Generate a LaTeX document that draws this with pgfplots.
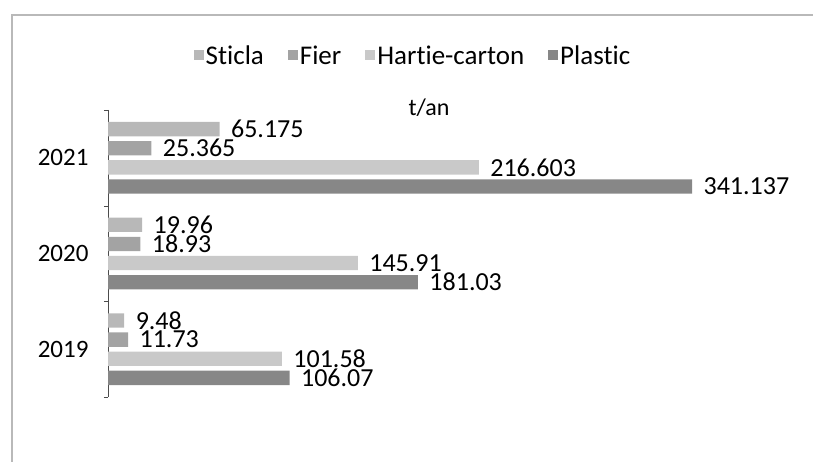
\documentclass[border=0pt]{standalone}
\usepackage{pgfplots}
\pgfplotsset{compat=1.18}
\usepackage{fontspec}
\setmainfont{Carlito}[Ligatures=NoCommon]

\definecolor{cSticla}{gray}{0.72}
\definecolor{cFier}{gray}{0.64}
\definecolor{cHartie}{gray}{0.79}
\definecolor{cPlastic}{gray}{0.53}

\begin{document}
\begin{tikzpicture}
% scanned page frame
\draw[gray!55, line width=1.5pt] (12pt,0pt) -- (12pt,447pt) -- (813pt,447pt);

\begin{axis}[
    at={(108pt,65pt)}, anchor=south west,
    scale only axis,
    width=642pt, height=287pt,
    xbar, bar width=0.15,
    xmin=0, xmax=375,
    ymin=-0.5, ymax=2.5,
    y dir=reverse,
    hide x axis,
    axis y line*=left,
    y axis line style={draw=black!70, line width=0.8pt, -},
    ytick={0,1,2},
    yticklabels={2021,2020,2019},
    major tick length=0pt,
    extra y ticks={-0.5,0.5,1.5,2.5},
    extra y tick labels={},
    extra y tick style={major tick length=4pt, tick align=outside, tick style={black!70}},
    yticklabel style={font=\fontsize{25}{28}\selectfont, xshift=-16pt},
    point meta=explicit symbolic,
    nodes near coords={\pgfplotspointmeta},
    nodes near coords style={font=\fontsize{26}{28}\selectfont, anchor=west, xshift=8pt, text=black},
    title={t/an},
    title style={font=\fontsize{24}{26}\selectfont, at={(0.5,1)}, anchor=center, yshift=-4pt},
    legend columns=4,
    legend style={
        at={(0.475,1.19)}, anchor=center, draw=none, fill=none,
        font=\fontsize{27}{30}\selectfont,
        /tikz/every even column/.append style={column sep=22pt},
    },
    legend image code/.code={\fill[#1] (-7pt,-5pt) rectangle (3pt,5pt);},
]
\addplot[draw=none, fill=cSticla, bar shift=-0.3] coordinates {
    (65.175,0) [65.175]
    (19.96,1) [19.96]
    (9.48,2) [9.48]
};
\addlegendentry{Sticla}
\addplot[draw=none, fill=cFier, bar shift=-0.1] coordinates {
    (25.365,0) [25.365]
    (18.93,1) [18.93]
    (11.73,2) [11.73]
};
\addlegendentry{Fier}
\addplot[draw=none, fill=cHartie, bar shift=0.1] coordinates {
    (216.603,0) [216.603]
    (145.91,1) [145.91]
    (101.58,2) [101.58]
};
\addlegendentry{Hartie-carton}
\addplot[draw=none, fill=cPlastic, bar shift=0.3] coordinates {
    (341.137,0) [341.137]
    (181.03,1) [181.03]
    (106.07,2) [106.07]
};
\addlegendentry{Plastic}
\end{axis}
\pgfresetboundingbox
\useasboundingbox (0pt,0pt) rectangle (813pt,462pt);
\end{tikzpicture}
\end{document}
